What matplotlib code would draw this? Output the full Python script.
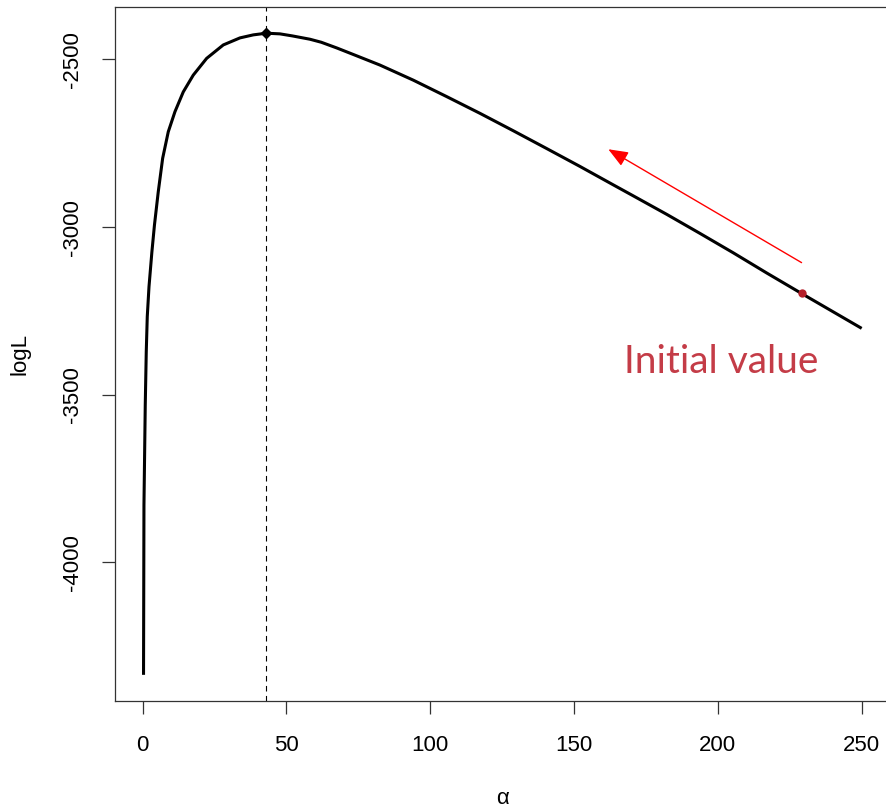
import matplotlib.pyplot as plt

# Values.
alpha = [0.3, 0.45, 0.9, 1.25, 1.6, 2.2, 3.2, 4.1, 5.42, 6.95, 8.9, 11.23,
         14.12, 17.59, 22.25, 28.03, 33.83, 38.46, 43.0, 47.74, 52.0, 58.17,
         62.1, 67.5, 73.7, 82.5, 94.1, 105.7, 117.3, 128.9, 140.5, 152.0,
         163.6, 170.6, 182.2, 193.8, 205.4, 217.0, 229.1, 250.0]
logL = [-4335, -3829, -3531, -3372, -3267, -3178, -3075, -2994, -2895, -2795,
        -2716, -2656, -2597, -2547, -2497, -2457, -2436, -2427, -2422, -2424,
        -2430, -2440, -2449, -2466, -2487, -2517, -2562, -2611, -2661, -2713,
        -2766, -2819, -2874, -2907, -2962, -3019, -3077, -3137, -3198, -3302]

mle_alpha = 43.0
mle_logL = -2422
init_alpha = 229.1
init_logL = -3198
arrow_from = (229.1, -3106)
arrow_to = (161.9, -2768)
note_text = 'Initial value'
note_pos = (201.1, -3436)

x_ticks = [0, 50, 100, 150, 200, 250]
y_ticks = [-4000, -3500, -3000, -2500]

plt.rcParams['font.family'] = ['Liberation Sans', 'DejaVu Sans']
plt.rcParams['axes.unicode_minus'] = False

fig = plt.figure(figsize=(8.87, 8.09), dpi=100)
ax = fig.add_axes([0.1301, 0.1335, 0.8737, 0.8578])

# Main curve
ax.plot(alpha, logL, color='black', lw=2.2, solid_joinstyle='round',
        solid_capstyle='butt')

# Maximum and dashed line through it
ax.axvline(mle_alpha, color='black', lw=0.8, dashes=(5, 4))
ax.plot([mle_alpha], [mle_logL], marker='D', color='black', ms=5.5)

# Initial value point
ax.plot([init_alpha], [init_logL], marker='o', color='#B5202A', ms=6,
        markeredgewidth=0)

# Red arrow
ax.annotate('', xy=arrow_to, xytext=arrow_from,
            arrowprops=dict(arrowstyle='-|>,head_length=0.6,head_width=0.24',
                            mutation_scale=20, color='#FF0000', lw=1.0,
                            shrinkA=0, shrinkB=0))

ax.text(note_pos[0], note_pos[1], note_text, color='#C43C47',
        fontsize=28, ha='center', va='baseline', family=['Lato', 'DejaVu Sans'])

# Axes like R base graphics
ax.set_xlim(-9.48, 259.98)
ax.set_ylim(-4413, -2344)
ax.set_xticks(x_ticks)
ax.set_yticks(y_ticks)
ax.tick_params(axis='both', length=9.6, width=0.9, labelsize=16,
               color='#333333')
ax.tick_params(axis='x', pad=15)
ax.tick_params(axis='y', pad=14)
for lab in ax.get_yticklabels():
    lab.set_rotation(90)
    lab.set_va('center')
for sp in ax.spines.values():
    sp.set_linewidth(0.9)
    sp.set_color('#333333')

ax.set_xlabel('α', fontsize=16)
ax.set_ylabel('logL', fontsize=16)
ax.xaxis.set_label_coords(0.5, -0.125)
ax.yaxis.label.set_va('center')
ax.yaxis.set_label_coords(-0.123, 0.5)

fig.savefig('out.png', dpi=100)
